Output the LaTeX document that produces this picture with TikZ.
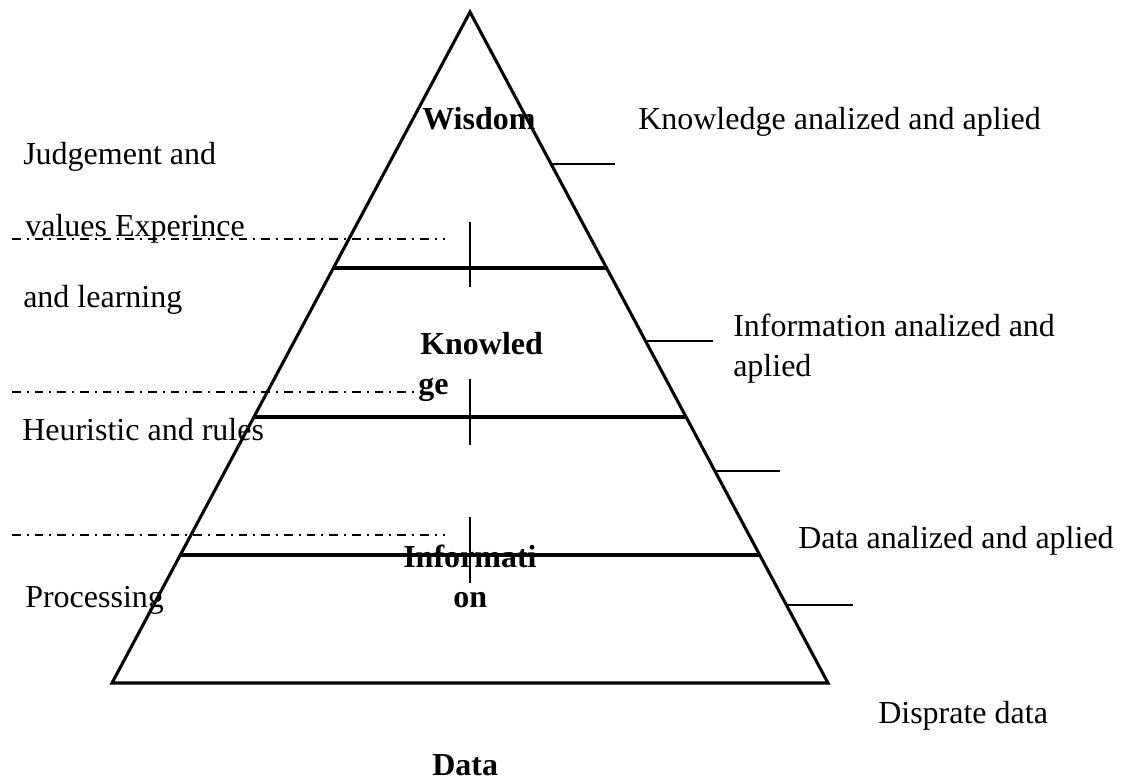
\documentclass[tikz,border=0pt]{standalone}
\usepackage{fontspec}
\setmainfont{Liberation Serif}
\begin{document}
\begin{tikzpicture}[x=0.75pt,y=-0.75pt,
  thick line/.style={line width=2.3pt},
  thin line/.style={line width=1.1pt},
  dashdot line/.style={line width=0.8pt,dash pattern=on 6.5pt off 4.5pt on 1.5pt off 4.5pt},
  lbl/.style={anchor=base west,inner sep=0pt,font=\fontsize{24}{28}\selectfont},
  blbl/.style={lbl,font=\fontsize{24}{28}\selectfont\bfseries}]
\useasboundingbox (0,0) rectangle (1124,780);
% triangle
\coordinate (apex) at (470,12);
\coordinate (bl) at (112,683);
\coordinate (br) at (828,683);
\draw[thick line,line join=miter] (apex) -- (br) -- (bl) -- cycle;
% level lines
\coordinate (l1a) at (333,268); \coordinate (l1b) at (607,268);
\coordinate (l2a) at (254,417); \coordinate (l2b) at (686,417);
\coordinate (l3a) at (180,555); \coordinate (l3b) at (760,555);
\draw[thick line] (l1a) -- (l1b);
\draw[thick line] (l2a) -- (l2b);
\draw[thick line] (l3a) -- (l3b);
% dash-dot lines
\coordinate (d1a) at (12,239); \coordinate (d1b) at (445,239);
\coordinate (d2a) at (12,392); \coordinate (d2b) at (415,392);
\coordinate (d3a) at (12,535); \coordinate (d3b) at (445,535);
\draw[dashdot line] (d1a) -- (d1b);
\draw[dashdot line] (d2a) -- (d2b);
\draw[dashdot line] (d3a) -- (d3b);
% vertical ticks
\coordinate (t1a) at (470,222); \coordinate (t1b) at (470,287);
\coordinate (t2a) at (470,379); \coordinate (t2b) at (470,445);
\coordinate (t3a) at (470,517); \coordinate (t3b) at (470,583);
\draw[thin line] (t1a) -- (t1b);
\draw[thin line] (t2a) -- (t2b);
\draw[thin line] (t3a) -- (t3b);
% right short lines
\coordinate (r1a) at (551,164); \coordinate (r1b) at (615,164);
\coordinate (r2a) at (646,341); \coordinate (r2b) at (713,341);
\coordinate (r3a) at (715,471); \coordinate (r3b) at (780,471);
\coordinate (r4a) at (787,605); \coordinate (r4b) at (853,605);
\draw[thin line] (r1a) -- (r1b);
\draw[thin line] (r2a) -- (r2b);
\draw[thin line] (r3a) -- (r3b);
\draw[thin line] (r4a) -- (r4b);
% bold labels
\node[blbl] (wisdom) at (422,130) {Wisdom};
\node[blbl] (know1) at (420,355) {Knowled};
\node[blbl] (know2) at (418,395) {ge};
\node[blbl] (info1) at (403,567) {Informati};
\node[blbl] (info2) at (453,607) {on};
\node[blbl] (data) at (432,775) {Data};
% left labels
\node[lbl] (judg) at (23,165) {Judgement and};
\node[lbl] (vals) at (25,237) {values Experince};
\node[lbl] (learn) at (23,308) {and learning};
\node[lbl] (heur) at (22,440) {Heuristic and rules};
\node[lbl] (proc) at (25,607) {Processing};
% right labels
\node[lbl] (kaa) at (638,130) {Knowledge analized and aplied};
\node[lbl] (iaa) at (733,337) {Information analized and};
\node[lbl] (iaa2) at (733,377) {aplied};
\node[lbl] (daa) at (798,548) {Data analized and aplied};
\node[lbl] (disp) at (878,723) {Disprate data};
\end{tikzpicture}
\end{document}
